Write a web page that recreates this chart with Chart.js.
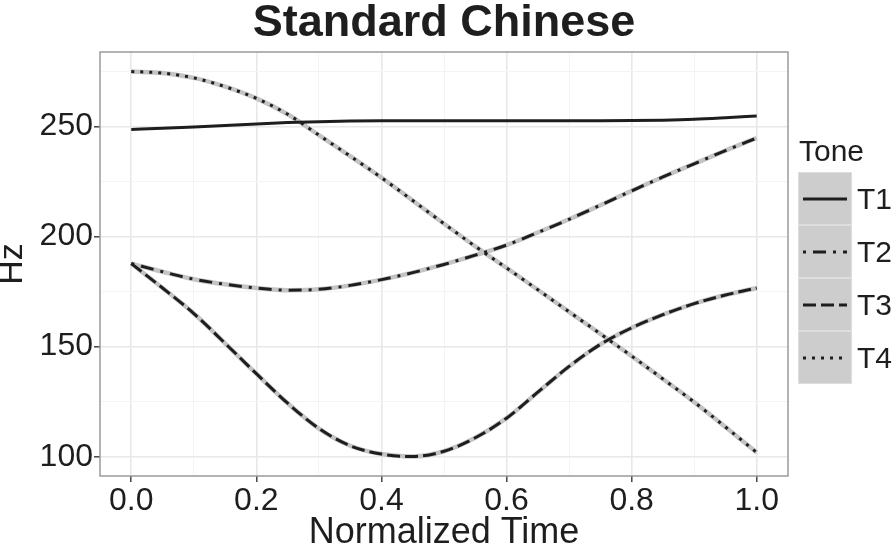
<!DOCTYPE html>
<html>
<head>
<meta charset="utf-8">
<script src="https://cdn.jsdelivr.net/npm/chart.js@4.4.1/dist/chart.umd.min.js"></script>
<style>
  html, body { margin: 0; padding: 0; background: #fff; }
  #wrap { width: 896px; height: 548px; }
</style>
</head>
<body>
<div id="wrap"><canvas id="chart" width="896" height="548"></canvas></div>
<script>
const times = [0, 0.05, 0.1, 0.15, 0.2, 0.25, 0.3, 0.35, 0.4, 0.45, 0.5,
  0.55, 0.6, 0.65, 0.7, 0.75, 0.8, 0.85, 0.9, 0.95, 1.0];

const toneNames = ['T1', 'T2', 'T3', 'T4'];

const t1Hz = [248.6, 249.1, 249.7, 250.4, 251.1, 251.7, 252.1, 252.4, 252.5, 252.5, 252.5,
  252.5, 252.5, 252.5, 252.5, 252.5, 252.6, 252.8, 253.2, 253.9, 254.7];
const t2Hz = [187.7, 184.0, 180.6, 178.3, 176.6, 175.6, 176.0, 177.8, 180.4, 183.6, 187.3,
  191.5, 196.1, 201.8, 207.8, 214.2, 220.7, 227.0, 233.0, 239.0, 244.7];
const t3Hz = [187.7, 176.6, 165.0, 151.5, 137.7, 124.3, 112.8, 105.0, 101.2, 100.1, 102.5,
  108.6, 117.5, 129.3, 141.0, 151.0, 158.5, 164.5, 169.5, 173.4, 176.6];
const t4Hz = [274.9, 274.2, 272.0, 268.0, 262.7, 255.5, 246.0, 236.5, 226.7, 216.3, 205.8,
  195.5, 185.7, 175.8, 165.8, 155.8, 145.7, 135.3, 124.8, 113.5, 101.9];

const xTickValues = [0, 0.1, 0.2, 0.3, 0.4, 0.5, 0.6, 0.7, 0.8, 0.9, 1.0];
const xMajorTicks = [0, 0.2, 0.4, 0.6, 0.8, 1.0];
const yTickValues = [100, 125, 150, 175, 200, 225, 250, 275];
const yMajorTicks = [100, 150, 200, 250];

const toneSeries = [t1Hz, t2Hz, t3Hz, t4Hz];
const toneDashes = [[], [3, 7, 13, 7], [13, 5], [3, 6]];

const colors = {
  ink: '#1e1e1e',
  underlay: '#c4c4c4',
  gridMajor: '#e8e8e8',
  gridMinor: '#f4f4f4',
  border: '#9a9a9a',
  tick: '#444444',
  keyBg: '#cdcdcd',
  keySep: '#dedede'
};

const fontFamily = '"Liberation Sans", Arial, Helvetica, sans-serif';

const isMajor = (list, v) => list.some(m => Math.abs(m - v) < 1e-9);

// one gray underlay plus one black line per dashed tone
const datasets = [];
toneNames.forEach((name, i) => {
  const pts = times.map((t, k) => ({ x: t, y: toneSeries[i][k] }));
  if (toneDashes[i].length) {
    datasets.push({
      label: name + ' bg',
      data: pts,
      borderColor: colors.underlay,
      borderWidth: 4.5,
      pointRadius: 0,
      cubicInterpolationMode: 'monotone',
      order: 2
    });
  }
  datasets.push({
    label: name,
    data: pts,
    borderColor: colors.ink,
    borderWidth: 3,
    borderDash: toneDashes[i],
    borderCapStyle: 'butt',
    pointRadius: 0,
    cubicInterpolationMode: 'monotone',
    order: 1
  });
});

const panelBorder = {
  id: 'panelBorder',
  afterDraw(chart) {
    const { ctx, chartArea: a } = chart;
    ctx.save();
    ctx.strokeStyle = colors.border;
    ctx.lineWidth = 1.5;
    ctx.strokeRect(a.left, a.top, a.right - a.left, a.bottom - a.top);
    // title centred over the panel, like ggplot
    ctx.fillStyle = colors.ink;
    ctx.font = 'bold 45px ' + fontFamily;
    ctx.textAlign = 'center';
    ctx.textBaseline = 'middle';
    ctx.fillText('Standard Chinese', (a.left + a.right) / 2, 24);
    ctx.restore();
  }
};

const toneLegend = {
  id: 'toneLegend',
  afterDraw(chart) {
    const ctx = chart.ctx;
    const left = 798, top = 172, w = 54, h = 53;
    ctx.save();
    ctx.fillStyle = colors.ink;
    ctx.font = '30px ' + fontFamily;
    ctx.textBaseline = 'middle';
    ctx.textAlign = 'left';
    ctx.fillText('Tone', 799, 153);
    toneNames.forEach((name, i) => {
      const y = top + i * h;
      ctx.fillStyle = colors.keyBg;
      ctx.fillRect(left, y, w, h);
      ctx.strokeStyle = colors.keySep;
      ctx.lineWidth = 1;
      ctx.strokeRect(left + 0.5, y + 0.5, w - 1, h - 1);
      ctx.strokeStyle = colors.ink;
      ctx.lineWidth = 3;
      ctx.lineCap = 'butt';
      ctx.setLineDash(toneDashes[i]);
      ctx.beginPath();
      ctx.moveTo(left + 5, y + 27);
      ctx.lineTo(left + w - 5, y + 27);
      ctx.stroke();
      ctx.setLineDash([]);
      ctx.fillStyle = colors.ink;
      ctx.fillText(name, 857, y + 29);
    });
    ctx.restore();
  }
};

new Chart(document.getElementById('chart'), {
  type: 'line',
  data: { datasets },
  options: {
    responsive: false,
    animation: false,
    layout: { padding: { top: 52, right: 108, bottom: 0, left: 0 } },
    plugins: {
      legend: { display: false },
      tooltip: { enabled: false },
      title: { display: false }
    },
    scales: {
      x: {
        type: 'linear',
        min: -0.05,
        max: 1.05,
        afterBuildTicks: s => { s.ticks = xTickValues.map(v => ({ value: v })); },
        afterFit: s => { s.height = 72; },
        border: { display: false },
        grid: {
          color: c => isMajor(xMajorTicks, c.tick.value) ? colors.gridMajor : colors.gridMinor,
          lineWidth: c => isMajor(xMajorTicks, c.tick.value) ? 1.6 : 1,
          tickColor: c => isMajor(xMajorTicks, c.tick.value) ? colors.tick : 'rgba(0,0,0,0)',
          tickLength: 6,
          tickWidth: 1.5
        },
        ticks: {
          color: colors.ink,
          padding: 0,
          maxRotation: 0,
          autoSkip: false,
          font: { family: fontFamily, size: 32 },
          callback: v => isMajor(xMajorTicks, v) ? v.toFixed(1) : ''
        },
        title: {
          display: true,
          text: 'Normalized Time',
          color: colors.ink,
          padding: { top: 0, bottom: -3 },
          font: { family: fontFamily, size: 36, lineHeight: 1 }
        }
      },
      y: {
        type: 'linear',
        min: 91.25,
        max: 283.75,
        afterBuildTicks: s => { s.ticks = yTickValues.map(v => ({ value: v })); },
        afterFit: s => { s.width = 100; },
        border: { display: false },
        grid: {
          color: c => isMajor(yMajorTicks, c.tick.value) ? colors.gridMajor : colors.gridMinor,
          lineWidth: c => isMajor(yMajorTicks, c.tick.value) ? 1.6 : 1,
          tickColor: c => isMajor(yMajorTicks, c.tick.value) ? colors.tick : 'rgba(0,0,0,0)',
          tickLength: 6,
          tickWidth: 1.5
        },
        ticks: {
          color: colors.ink,
          padding: 1,
          autoSkip: false,
          font: { family: fontFamily, size: 32 },
          callback: v => isMajor(yMajorTicks, v) ? String(v) : ''
        },
        title: {
          display: true,
          text: 'Hz',
          color: colors.ink,
          padding: { top: -4, bottom: 0 },
          font: { family: fontFamily, size: 34, lineHeight: 1 }
        }
      }
    }
  },
  plugins: [panelBorder, toneLegend]
});
</script>
</body>
</html>
